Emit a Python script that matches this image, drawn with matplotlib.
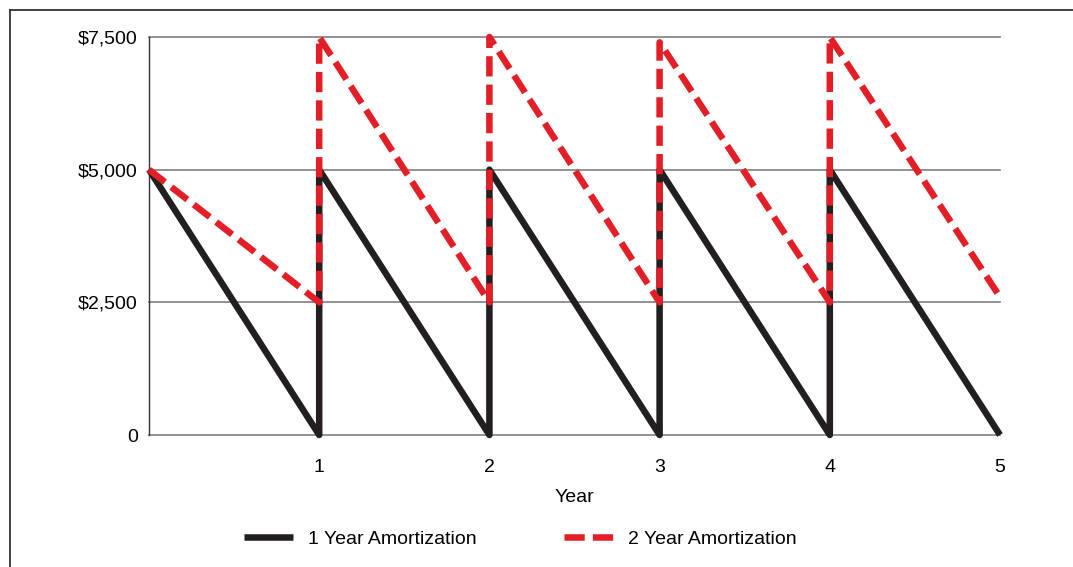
"""Sawtooth chart comparing 1 and 2 year amortization balances."""

import matplotlib

matplotlib.use("Agg")
from matplotlib import pyplot as plt
from matplotlib.lines import Line2D

# data: balance at each breakpoint (vertical jumps at year ends)
one_year_x = [0, 1, 1, 2, 2, 3, 3, 4, 4, 5]
one_year_y = [5000, 0, 5000, 0, 5000, 0, 5000, 0, 5000, 0]
two_year_x = [0, 1, 1, 2, 2, 3, 3, 4, 4, 5]
two_year_y = [5000, 2500, 7500, 2500, 7500, 2500, 7400, 2500, 7500, 2600]
x_ticks = [1, 2, 3, 4, 5]
y_ticks = [0, 2500, 5000, 7500]
y_labels = ["0", "$2,500", "$5,000", "$7,500"]
series_labels = ["1 Year Amortization", "2 Year Amortization"]

BLACK = "#231f20"
RED = "#e31e26"

plt.rcParams["font.family"] = ["Liberation Sans", "DejaVu Sans"]

fig = plt.figure(figsize=(10.73, 5.67), dpi=100)
ax = fig.add_axes([149 / 1073, 1 - 435 / 567, 851 / 1073, 398 / 567])

# outer frame: top and left only
fig.add_artist(Line2D([10 / 1073, 1], [1 - 10 / 567, 1 - 10 / 567],
                      color="#333333", lw=1.3, transform=fig.transFigure))
fig.add_artist(Line2D([10 / 1073, 10 / 1073], [0, 1 - 10 / 567],
                      color="#333333", lw=1.3, transform=fig.transFigure))

for y in y_ticks:
    ax.axhline(y, color="#7f7f7f", lw=1.2, zorder=1)

ax.plot(one_year_x, one_year_y, color=BLACK, lw=4.7,
        solid_joinstyle="round", solid_capstyle="butt", zorder=3,
        label=series_labels[0])
ax.plot(two_year_x, two_year_y, color=RED, lw=4.7, dashes=(3.1, 1.25),
        dash_capstyle="butt", zorder=4, label=series_labels[1])

ax.set_xlim(0, 5)
ax.set_ylim(0, 7500)
ax.set_xticks(x_ticks)
ax.set_yticks(y_ticks)
ax.set_yticklabels(y_labels)
ax.tick_params(length=0, labelsize=14, colors="black")
ax.tick_params(axis="x", pad=17)
ax.tick_params(axis="y", pad=8)
ax.set_xlabel("Year", fontsize=14, labelpad=10)

for side in ["top", "right", "bottom"]:
    ax.spines[side].set_visible(False)
ax.spines["left"].set_color("#333333")
ax.spines["left"].set_linewidth(1.0)
for line in ax.get_lines():
    line.set_clip_on(False)

fig.legend(loc="center", bbox_to_anchor=(0.485, 1 - 539 / 567), ncol=2,
           frameon=False, fontsize=14, handlelength=2.5,
           handletextpad=0.77, columnspacing=4.5)

plt.savefig("out.png", dpi=100)
